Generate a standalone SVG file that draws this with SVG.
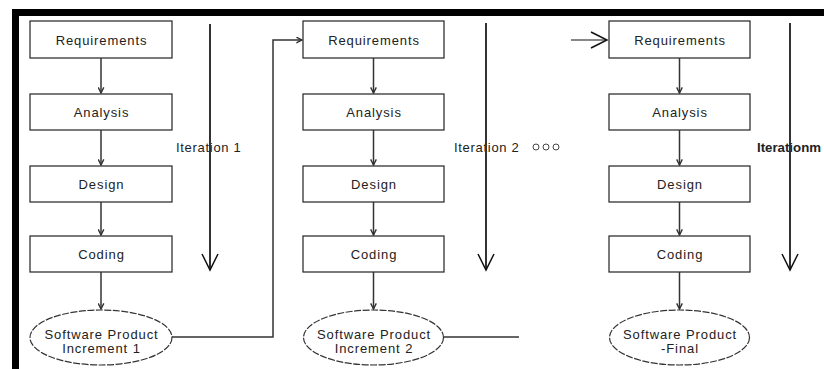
<svg xmlns="http://www.w3.org/2000/svg" width="824" height="369" viewBox="0 0 824 369">
<defs>
<marker id="ah" viewBox="0 0 10 10" refX="9" refY="5" markerWidth="7" markerHeight="7" orient="auto" markerUnits="userSpaceOnUse">
<path d="M1,1 L9,5 L1,9" fill="none" stroke="#333" stroke-width="2"/>
</marker>
<marker id="oh" viewBox="0 0 20 20" refX="18" refY="10" markerWidth="20" markerHeight="20" orient="auto" markerUnits="userSpaceOnUse">
<path d="M2,2 L18,10 L2,18" fill="none" stroke="#111" stroke-width="1.5"/>
</marker>
</defs>
<style>
.box{fill:#fff;stroke:#222;stroke-width:1.2}
.ell{fill:#fff;stroke:#333;stroke-width:1.2;stroke-dasharray:7 1.5}
.t{font-family:"Liberation Sans",Arial,sans-serif;font-size:13px;letter-spacing:0.9px;fill:#222;text-anchor:middle}
.it{font-family:"Liberation Sans",Arial,sans-serif;font-size:13px;letter-spacing:0.7px;fill:#222}
.c{fill:none;stroke:#333;stroke-width:1.5}
.big{fill:none;stroke:#333;stroke-width:2}
.dot{fill:none;stroke:#444;stroke-width:1}
</style>
<rect x="0" y="0" width="824" height="369" fill="#fff"/>
<rect x="12" y="9" width="812" height="7" fill="#000"/>
<rect x="12" y="9" width="7" height="360" fill="#000"/>

<g id="c1-req"><rect class="box" x="30" y="21" width="142" height="37"/><text class="t" x="101.5" y="44.5">Requirements</text></g>
<g id="c1-ana"><rect class="box" x="30" y="94" width="142" height="36"/><text class="t" x="101.5" y="117">Analysis</text></g>
<g id="c1-des"><rect class="box" x="30" y="166" width="142" height="36"/><text class="t" x="101.5" y="189">Design</text></g>
<g id="c1-cod"><rect class="box" x="30" y="236" width="142" height="36"/><text class="t" x="101.5" y="259">Coding</text></g>
<g id="c1-prod"><ellipse class="ell" cx="101" cy="337.5" rx="71" ry="27.5"/><text class="t" x="101.5" y="339">Software Product</text><text class="t" x="101.5" y="353">Increment 1</text></g>

<g id="c2-req"><rect class="box" x="303" y="21" width="141" height="37"/><text class="t" x="374" y="44.5">Requirements</text></g>
<g id="c2-ana"><rect class="box" x="303" y="94" width="141" height="36"/><text class="t" x="374" y="117">Analysis</text></g>
<g id="c2-des"><rect class="box" x="303" y="166" width="141" height="36"/><text class="t" x="374" y="189">Design</text></g>
<g id="c2-cod"><rect class="box" x="303" y="236" width="141" height="36"/><text class="t" x="374" y="259">Coding</text></g>
<g id="c2-prod"><ellipse class="ell" cx="373.5" cy="337.5" rx="70" ry="27.5"/><text class="t" x="374" y="339">Software Product</text><text class="t" x="374" y="353">Increment 2</text></g>

<g id="c3-req"><rect class="box" x="609" y="21" width="141" height="37"/><text class="t" x="680" y="44.5">Requirements</text></g>
<g id="c3-ana"><rect class="box" x="609" y="94" width="141" height="36"/><text class="t" x="680" y="117">Analysis</text></g>
<g id="c3-des"><rect class="box" x="609" y="166" width="141" height="36"/><text class="t" x="680" y="189">Design</text></g>
<g id="c3-cod"><rect class="box" x="609" y="236" width="141" height="36"/><text class="t" x="680" y="259">Coding</text></g>
<g id="c3-prod"><ellipse class="ell" cx="679.5" cy="337.5" rx="70" ry="27.5"/><text class="t" x="680" y="339">Software Product</text><text class="t" x="680" y="353">-Final</text></g>

<g id="labels">
<text class="it" x="176" y="152">Iteration 1</text>
<text class="it" x="454" y="152">Iteration 2</text>
<circle class="dot" cx="536" cy="147" r="3"/><circle class="dot" cx="546" cy="147" r="3"/><circle class="dot" cx="556" cy="147" r="3"/>
<text x="757" y="152" font-family="'Liberation Sans',Arial,sans-serif" font-size="12.5" font-weight="bold" fill="#222" textLength="64" lengthAdjust="spacingAndGlyphs">Iterationm</text>
</g>

<g id="connectors">
<line class="c" x1="101" y1="58" x2="101" y2="93" marker-end="url(#ah)"/>
<line class="c" x1="101" y1="130" x2="101" y2="165" marker-end="url(#ah)"/>
<line class="c" x1="101" y1="202" x2="101" y2="235" marker-end="url(#ah)"/>
<line class="c" x1="101" y1="272" x2="101" y2="309" marker-end="url(#ah)"/>
<line class="c" x1="373.5" y1="58" x2="373.5" y2="93" marker-end="url(#ah)"/>
<line class="c" x1="373.5" y1="130" x2="373.5" y2="165" marker-end="url(#ah)"/>
<line class="c" x1="373.5" y1="202" x2="373.5" y2="235" marker-end="url(#ah)"/>
<line class="c" x1="373.5" y1="272" x2="373.5" y2="309" marker-end="url(#ah)"/>
<line class="c" x1="679.5" y1="58" x2="679.5" y2="93" marker-end="url(#ah)"/>
<line class="c" x1="679.5" y1="130" x2="679.5" y2="165" marker-end="url(#ah)"/>
<line class="c" x1="679.5" y1="202" x2="679.5" y2="235" marker-end="url(#ah)"/>
<line class="c" x1="679.5" y1="272" x2="679.5" y2="309" marker-end="url(#ah)"/>
<polyline class="c" points="172,337 273,337 273,40 302,40" marker-end="url(#ah)"/>
<line class="c" x1="444" y1="337" x2="519" y2="337"/>
<line x1="571" y1="40" x2="607" y2="40" stroke="#111" stroke-width="1.2" marker-end="url(#oh)"/>
<line class="big" x1="210" y1="24" x2="210" y2="270" marker-end="url(#oh)"/>
<line class="big" x1="486" y1="23" x2="486" y2="270" marker-end="url(#oh)"/>
<line class="big" x1="790" y1="23" x2="790" y2="270" marker-end="url(#oh)"/>
</g>
</svg>
